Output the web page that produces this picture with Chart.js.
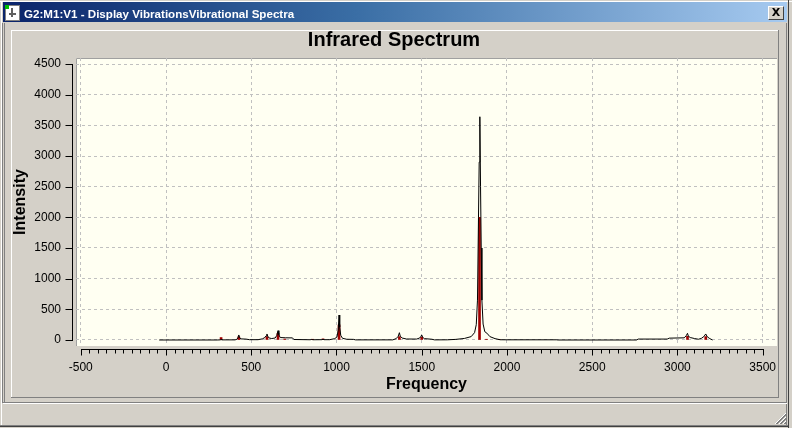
<!DOCTYPE html>
<html><head><meta charset="utf-8">
<script src="https://cdn.jsdelivr.net/npm/chart.js@4.4.0/dist/chart.umd.min.js"></script>
<style>
html,body{margin:0;padding:0;width:792px;height:428px;overflow:hidden;background:#d4d0c8;}
#win{position:relative;width:792px;height:428px;background:#d4d0c8;font-family:"Liberation Sans",Arial,sans-serif;}
.ln{position:absolute;}
#titlebar{position:absolute;left:3px;top:2px;width:784px;height:20px;background:linear-gradient(to right,#0a246a 0%,#3a6ea5 45%,#a6caf0 100%);z-index:3;}
#ttext{position:absolute;left:21px;top:3px;line-height:18px;font-size:11.6px;font-weight:bold;color:#fff;white-space:nowrap;}
#icon{position:absolute;left:2px;top:3px;width:13px;height:14px;background:#fff;border:1px solid #808080;}
#icon .g{position:absolute;left:-1px;top:-1px;width:4px;height:4px;background:#00c000;}
#icon .a{position:absolute;left:5px;top:2px;width:2px;height:9px;background:#606060;}
#icon .b{position:absolute;left:3px;top:7px;width:7px;height:2px;background:#606060;}
#close{position:absolute;left:765px;top:4px;width:14px;height:12px;background:#d4d0c8;border-top:1px solid #fff;border-left:1px solid #fff;border-right:1px solid #404040;border-bottom:1px solid #404040;font:bold 11px "DejaVu Sans",sans-serif;line-height:12px;text-align:center;color:#000;}
canvas{position:absolute;left:0;top:0;z-index:2;}
#grip{position:absolute;left:774px;top:412px;z-index:3;}
</style></head>
<body><div id="win">
  <div class="ln" style="left:0;top:1px;width:792px;height:1px;background:#fff"></div>
  <div class="ln" style="left:1px;top:1px;width:1px;height:426px;background:#fff"></div>
  <div class="ln" style="left:2px;top:23px;width:1px;height:380px;background:#808080"></div>
  <div class="ln" style="left:4px;top:23px;width:1px;height:380px;background:#808080"></div>
  <div class="ln" style="left:786px;top:23px;width:1px;height:403px;background:#808080"></div>
  <div class="ln" style="left:788px;top:0;width:1px;height:428px;background:#404040"></div>
  <div class="ln" style="left:11px;top:30px;width:767px;height:1px;background:#fff"></div>
  <div class="ln" style="left:11px;top:30px;width:1px;height:367px;background:#fff"></div>
  <div class="ln" style="left:778px;top:30px;width:1px;height:368px;background:#808080"></div>
  <div class="ln" style="left:11px;top:397px;width:768px;height:1px;background:#808080"></div>
  <div class="ln" style="left:3px;top:402px;width:784px;height:1px;background:#808080"></div>
  <div class="ln" style="left:3px;top:403px;width:784px;height:1px;background:#fff"></div>
  <div class="ln" style="left:0;top:425px;width:788px;height:1px;background:#808080"></div>
  <div class="ln" style="left:0;top:426px;width:788px;height:1px;background:#404040"></div>
  <div id="titlebar">
    <div id="icon"><div class="a"></div><div class="b"></div><div class="g"></div></div>
    <div id="ttext">G2:M1:V1 - Display VibrationsVibrational Spectra</div>
    <div id="close">X</div>
  </div>
  <canvas id="c" width="792" height="428"></canvas>
  <svg id="grip" width="13" height="13">
    <g stroke-width="1">
      <line x1="12" y1="1" x2="1" y2="12" stroke="#fff"/><line x1="12" y1="2" x2="2" y2="12" stroke="#808080"/><line x1="12" y1="3" x2="3" y2="12" stroke="#808080"/>
      <line x1="12" y1="5" x2="5" y2="12" stroke="#fff"/><line x1="12" y1="6" x2="6" y2="12" stroke="#808080"/><line x1="12" y1="7" x2="7" y2="12" stroke="#808080"/>
      <line x1="12" y1="9" x2="9" y2="12" stroke="#fff"/><line x1="12" y1="10" x2="10" y2="12" stroke="#808080"/><line x1="12" y1="11" x2="11" y2="12" stroke="#808080"/>
    </g>
  </svg>
</div>
<script>
// ---- data ----
const specFreq = [-40,300,318,323,328,405,416,422,427,432,440,470,490,540,565,580,587,592,597,605,620,640,650,657,662,670,700,742,750,845,855,862,915,921,927,960,990,1003,1010,1015,1019,1025,1035,1060,1100,1112,1330,1350,1362,1369,1374,1385,1410,1470,1488,1495,1500,1505,1515,1560,1575,1650,1700,1750,1790,1810,1820,1827,1833,1837,1841,1845,1849,1853,1860,1870,1882,1900,1930,1960,2000,2290,2300,2760,2770,2940,2952,3040,3052,3059,3064,3075,3100,3123,3140,3155,3166,3175,3190,3206];
const specInt  = [0,0,2,8,2,2,12,35,82,38,18,14,5,5,18,40,68,98,60,32,24,32,75,152,85,40,36,34,8,4,9,4,5,12,5,5,22,50,160,407,210,75,28,12,10,2,2,22,60,119,62,32,16,15,32,58,82,46,22,12,2,3,10,25,55,120,250,650,2000,2900,3640,2500,1500,650,260,135,112,55,22,4,3,3,0,0,15,15,30,35,72,109,62,40,24,12,26,56,98,52,22,0];
const stickFreq = [323,427,592,657,696,860,921,1015,1369,1500,1839,1880,1955,3059,3166];
const stickInt  = [40,50,55,110,15,12,18,245,55,45,2000,12,10,60,55];
const xTickValues = [-500,0,500,1000,1500,2000,2500,3000,3500];
const yTickValues = [0,500,1000,1500,2000,2500,3000,3500,4000,4500];
const xRange = [-528, 3584];
const yRange = [-98, 4598];

const FONT = '"Liberation Sans", Arial, sans-serif';

const plotFrame = {
  id: 'plotFrame',
  beforeDraw(chart) {
    const {ctx, chartArea: a} = chart;
    ctx.save();
    ctx.fillStyle = '#fffff2';
    ctx.fillRect(a.left, a.top, a.right - a.left, a.bottom - a.top);
    ctx.strokeStyle = '#a0a0a0';
    ctx.lineWidth = 1;
    ctx.beginPath();
    ctx.moveTo(a.left + 0.5, a.bottom);
    ctx.lineTo(a.left + 0.5, a.top + 0.5);
    ctx.lineTo(a.right, a.top + 0.5);
    ctx.stroke();
    ctx.restore();
  },
  afterDraw(chart) {
    const {ctx, chartArea: a, scales: {x, y}} = chart;
    ctx.save();
    ctx.strokeStyle = '#000';
    ctx.lineWidth = 1;
    const yp = y.ticks.map(t => Math.round(y.getPixelForValue(t.value)));
    const ax = Math.round(a.left) - 3.5;
    ctx.beginPath();
    ctx.moveTo(ax, Math.min(...yp));
    ctx.lineTo(ax, Math.max(...yp) + 1);
    yp.forEach(p => { ctx.moveTo(ax - 7, p + 0.5); ctx.lineTo(ax + 0.5, p + 0.5); });
    ctx.stroke();
    const xv = x.ticks.map(t => t.value);
    const ay = Math.round(a.bottom) + 3.5;
    ctx.beginPath();
    ctx.moveTo(Math.round(x.getPixelForValue(xv[0])), ay);
    ctx.lineTo(Math.round(x.getPixelForValue(xv[xv.length - 1])) + 1, ay);
    for (let i = 0; i < xv.length; i++) {
      const px = Math.round(x.getPixelForValue(xv[i])) + 0.5;
      ctx.moveTo(px, ay); ctx.lineTo(px, ay + 6);
      if (i < xv.length - 1) {
        const step = (xv[i + 1] - xv[i]) / 10;
        for (let k = 1; k < 10; k++) {
          const mx = Math.round(x.getPixelForValue(xv[i] + k * step)) + 0.5;
          ctx.moveTo(mx, ay); ctx.lineTo(mx, ay + 4);
        }
      }
    }
    ctx.stroke();
    ctx.restore();
  }
};

new Chart(document.getElementById('c'), {
  type: 'line',
  data: {
    datasets: [
      {
        type: 'line', label: 'Spectrum',
        data: specFreq.map((f, i) => ({x: f, y: specInt[i]})),
        borderColor: '#000', borderWidth: 1, pointRadius: 0, tension: 0, order: 0
      },
      {
        type: 'bar', label: 'Modes',
        data: stickFreq.map((f, i) => ({x: f, y: stickInt[i]})),
        backgroundColor: '#a00000', barThickness: 2, order: 1
      }
    ]
  },
  options: {
    responsive: false, animation: false, events: [], devicePixelRatio: 1,
    layout: {padding: {left: 11, right: 15, top: 22, bottom: 30}},
    plugins: {
      legend: {display: false}, tooltip: {enabled: false},
      title: {display: true, text: 'Infrared Spectrum', color: '#000',
        font: {family: FONT, size: 20, weight: 'bold', lineHeight: 1.2},
        padding: {top: 6.5, bottom: 5.5}}
    },
    scales: {
      x: {
        type: 'linear', position: 'bottom', min: xRange[0], max: xRange[1], offset: false,
        afterBuildTicks: s => { s.ticks = xTickValues.map(v => ({value: v})); },
        afterFit: s => { s.height = 52; },
        ticks: {autoSkip: false, maxRotation: 0, minRotation: 0,
          padding: 14, color: '#000', font: {family: FONT, size: 12}, callback: v => String(v)},
        grid: {color: '#c0c0c0', drawTicks: false, offset: false},
        border: {display: false, dash: [3, 3]},
        title: {display: true, text: 'Frequency', color: '#000',
          font: {family: FONT, size: 16, weight: 'bold'}, padding: {top: 0, bottom: 4}}
      },
      y: {
        type: 'linear', position: 'left', min: yRange[0], max: yRange[1],
        afterBuildTicks: s => { s.ticks = yTickValues.map(v => ({value: v})); },
        afterFit: s => { s.width = 65; },
        ticks: {autoSkip: false, padding: 15, color: '#000',
          font: {family: FONT, size: 12}, callback: v => String(v)},
        grid: {color: '#c0c0c0', drawTicks: false},
        border: {display: false, dash: [3, 3]},
        title: {display: true, text: 'Intensity', color: '#000',
          font: {family: FONT, size: 16, weight: 'bold'}, padding: {top: 0, bottom: 0}}
      }
    }
  },
  plugins: [plotFrame]
});
</script>
</body></html>
